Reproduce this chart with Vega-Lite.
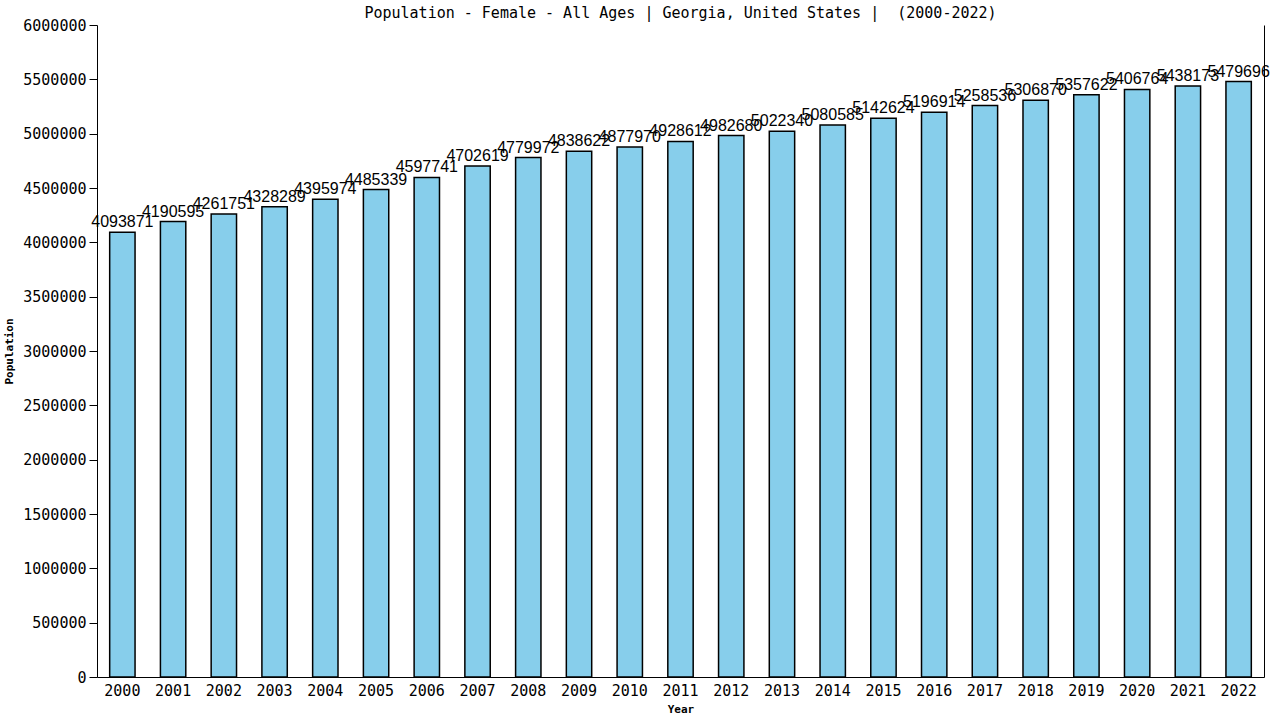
{
  "$schema": "https://vega.github.io/schema/vega-lite/v6.json",
  "width": 1280,
  "height": 720,
  "autosize": {"type": "fit", "contains": "padding"},
  "padding": {"left": 3, "top": 6, "right": 12, "bottom": 6},
  "background": "white",
  "title": {
    "text": "Population - Female - All Ages | Georgia, United States | \u00a0(2000-2022)",
    "font": "DejaVu Sans Mono",
    "fontSize": 15,
    "fontWeight": "normal",
    "color": "black",
    "offset": 0,
    "dy": 3
  },
  "data": {
    "values": [
      {"Year": "2000", "Population": 4093871},
      {"Year": "2001", "Population": 4190595},
      {"Year": "2002", "Population": 4261751},
      {"Year": "2003", "Population": 4328289},
      {"Year": "2004", "Population": 4395974},
      {"Year": "2005", "Population": 4485339},
      {"Year": "2006", "Population": 4597741},
      {"Year": "2007", "Population": 4702619},
      {"Year": "2008", "Population": 4779972},
      {"Year": "2009", "Population": 4838622},
      {"Year": "2010", "Population": 4877970},
      {"Year": "2011", "Population": 4928612},
      {"Year": "2012", "Population": 4982680},
      {"Year": "2013", "Population": 5022340},
      {"Year": "2014", "Population": 5080585},
      {"Year": "2015", "Population": 5142624},
      {"Year": "2016", "Population": 5196914},
      {"Year": "2017", "Population": 5258536},
      {"Year": "2018", "Population": 5306870},
      {"Year": "2019", "Population": 5357622},
      {"Year": "2020", "Population": 5406764},
      {"Year": "2021", "Population": 5438173},
      {"Year": "2022", "Population": 5479696}
    ]
  },
  "encoding": {
    "x": {
      "field": "Year",
      "type": "ordinal",
      "scale": {"paddingInner": 0.5, "paddingOuter": 0.25},
      "axis": {
        "labelAngle": 0,
        "ticks": false,
        "labelFont": "DejaVu Sans Mono",
        "labelFontSize": 15,
        "labelColor": "black",
        "labelPadding": 6,
        "domainColor": "black",
        "title": "Year",
        "titleFont": "DejaVu Sans Mono",
        "titleFontSize": 11,
        "titleFontWeight": "bold",
        "titleColor": "black",
        "titlePadding": 5
      }
    }
  },
  "layer": [
    {
      "mark": {"type": "bar", "fill": "#87CEEB", "stroke": "black", "strokeWidth": 1.5},
      "encoding": {
        "y": {
          "field": "Population",
          "type": "quantitative",
          "scale": {"domain": [0, 6000000], "nice": false},
          "axis": {
            "values": [0, 500000, 1000000, 1500000, 2000000, 2500000, 3000000, 3500000, 4000000, 4500000, 5000000, 5500000, 6000000],
            "format": "d",
            "grid": false,
            "tickColor": "black",
            "tickSize": 8,
            "domainColor": "black",
            "labelFont": "DejaVu Sans Mono",
            "labelFontSize": 15,
            "labelColor": "black",
            "labelPadding": 3,
            "title": "Population",
            "titleFont": "DejaVu Sans Mono",
            "titleFontSize": 11,
            "titleFontWeight": "bold",
            "titleColor": "black",
            "titlePadding": 8
          }
        }
      }
    },
    {
      "mark": {"type": "text", "baseline": "bottom", "dy": -2, "font": "Liberation Sans", "fontSize": 16, "color": "black"},
      "encoding": {
        "y": {
          "field": "Population",
          "type": "quantitative",
          "axis": {"orient": "right", "labels": false, "ticks": false, "grid": false, "title": null, "domainColor": "black"}
        },
        "text": {"field": "Population", "type": "quantitative", "format": "d"}
      }
    }
  ],
  "resolve": {"axis": {"y": "independent"}},
  "config": {"view": {"stroke": null}}
}
